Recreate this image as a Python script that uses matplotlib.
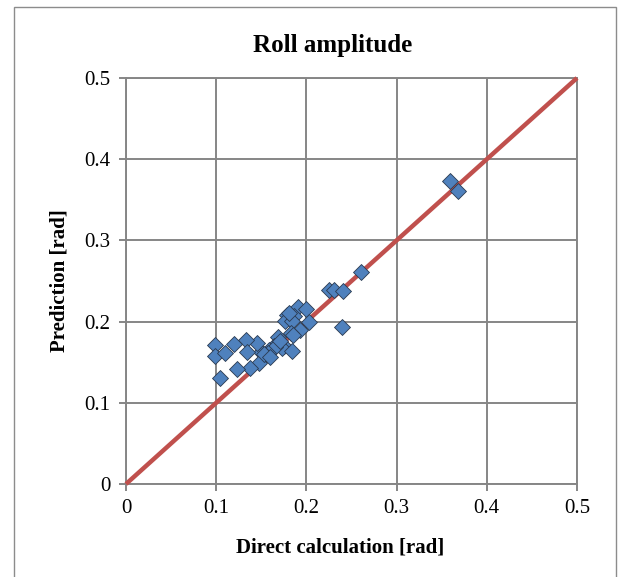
import matplotlib
matplotlib.use("Agg")
import matplotlib.pyplot as plt
from matplotlib.patches import Rectangle

plt.rcParams['font.family'] = ['Liberation Serif', 'DejaVu Serif']

direct = [0.359, 0.368, 0.261, 0.225, 0.231, 0.241, 0.239, 0.191, 0.200, 0.179,
          0.176, 0.186, 0.184, 0.203, 0.193, 0.183, 0.185, 0.169, 0.175, 0.1735,
          0.1845, 0.164, 0.159, 0.1655, 0.157, 0.154, 0.150, 0.147, 0.138, 0.123,
          0.145, 0.1325, 0.120, 0.134, 0.099, 0.099, 0.110, 0.104, 0.153, 0.160,
          0.181, 0.171]
prediction = [0.373, 0.361, 0.261, 0.239, 0.239, 0.238, 0.193, 0.2185, 0.215, 0.208,
              0.201, 0.207, 0.201, 0.200, 0.190, 0.186, 0.184, 0.1815, 0.170, 0.167,
              0.164, 0.170, 0.1655, 0.169, 0.161, 0.159, 0.163, 0.149, 0.143, 0.1415,
              0.174, 0.1775, 0.172, 0.162, 0.171, 0.158, 0.161, 0.130, 0.160, 0.157,
              0.211, 0.176]
ref_line = [0.0, 0.5]
ticks = [0, 0.1, 0.2, 0.3, 0.4, 0.5]
tick_labels = ['0', '0.1', '0.2', '0.3', '0.4', '0.5']

W, H = 622, 577
fig = plt.figure(figsize=(W / 100, H / 100), dpi=100)
ax_l, ax_r, ax_t, ax_b = 126, 577, 78, 484
ax = fig.add_axes([ax_l / W, 1 - ax_b / H, (ax_r - ax_l) / W, (ax_b - ax_t) / H])

grid_c = '#868686'
ax.plot(ref_line, ref_line, color='#C0504D', lw=3.2, solid_capstyle='butt', zorder=3, clip_on=False)
ax.scatter(direct, prediction, marker='D', s=66, color='#4F81BD', edgecolor='#2a3a50',
           linewidth=0.6, zorder=4, clip_on=False)

ax.set_xlim(0, 0.5)
ax.set_ylim(0, 0.5)
ax.set_xticks(ticks)
ax.set_yticks(ticks)
ax.set_xticklabels(tick_labels)
ax.set_yticklabels(tick_labels)
ax.grid(True, color=grid_c, lw=1.4)
ax.set_axisbelow(True)
for s in ax.spines.values():
    s.set_color(grid_c)
    s.set_linewidth(1.4)
ax.tick_params(axis='both', colors=grid_c, length=5, width=1.4, labelsize=15,
               labelcolor='black', pad=6)

title = ax.set_title('Roll amplitude', fontsize=18, fontweight='bold', pad=19)
title.set_x((333 - ax_l) / (ax_r - ax_l))
ax.set_xlabel('Direct calculation [rad]', fontsize=15, fontweight='bold', labelpad=14)
ax.xaxis.label.set_x((340 - ax_l) / (ax_r - ax_l))
ax.set_ylabel('Prediction [rad]', fontsize=15, fontweight='bold', labelpad=11)

fig.patches.append(Rectangle((14 / W, -0.05), (616 - 14) / W, 1.05 - 7 / H,
                             transform=fig.transFigure, fill=False, edgecolor='#8c8c8c',
                             lw=1.0, figure=fig))

fig.savefig('out.png', dpi=100)
